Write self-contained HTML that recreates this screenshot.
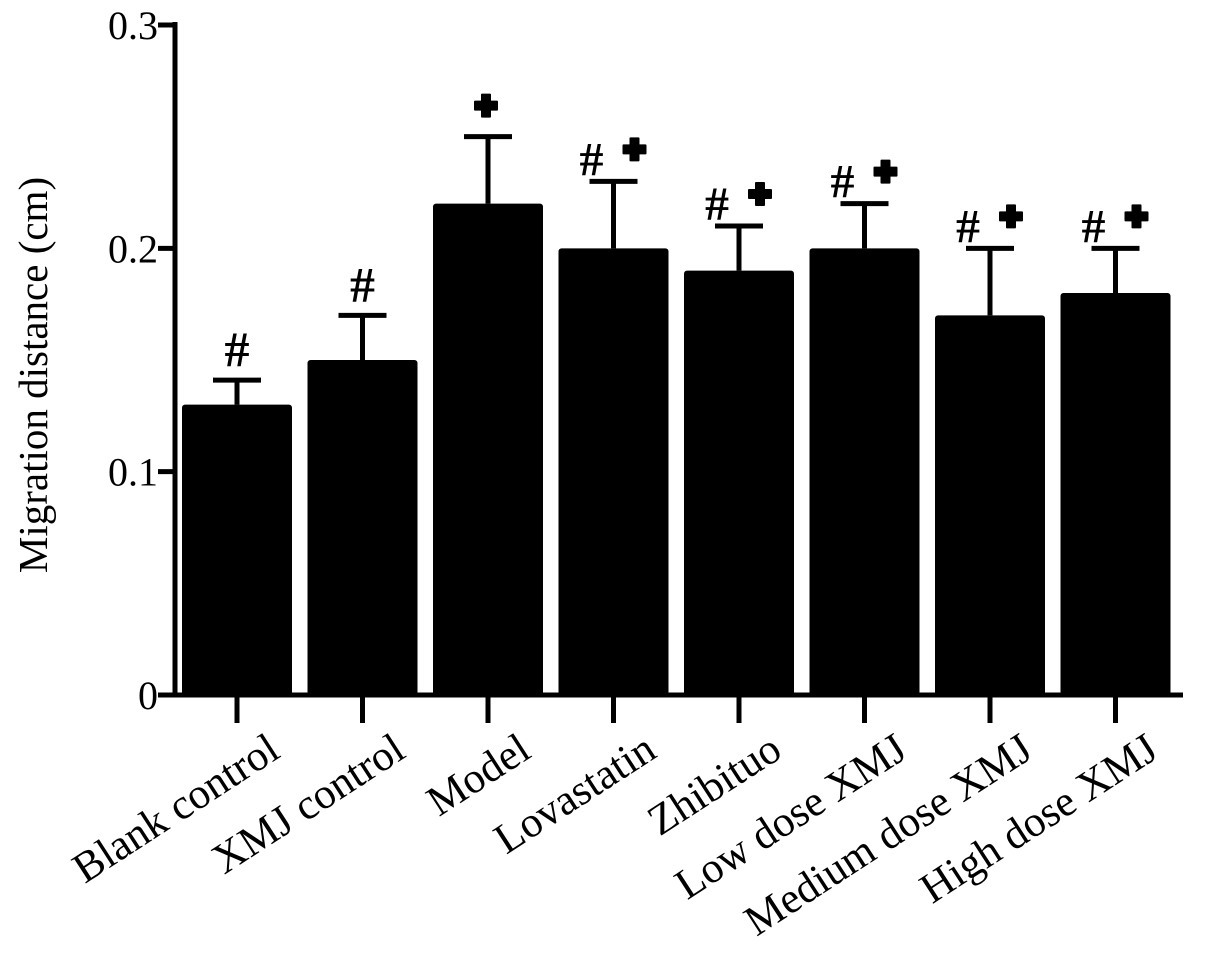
<!DOCTYPE html>
<html><head><meta charset="utf-8"><style>
body{margin:0;background:#fff}
svg text{font-family:"Liberation Serif",serif;fill:#000}
</style></head><body>
<svg width="1205" height="954">
<g id="g"></g>
</svg>
<script>
const categories=["Blank control","XMJ control","Model","Lovastatin","Zhibituo","Low dose XMJ","Medium dose XMJ","High dose XMJ"];
const values=[0.13,0.15,0.22,0.20,0.19,0.20,0.17,0.18];
const errors=[0.011,0.02,0.03,0.03,0.02,0.02,0.03,0.02];
const marks=["#","#","+","#+","#+","#+","#+","#+"];
const yTicks=[0,0.1,0.2,0.3];
const yTickLabels=["0","0.1","0.2","0.3"];
const NS="http://www.w3.org/2000/svg";
const g=document.getElementById('g');
const y=v=>695-v/0.3*670;
const x=i=>237+i*125.5;
function el(t,a,txt){const e=document.createElementNS(NS,t);for(const k in a)e.setAttribute(k,a[k]);if(txt!=null)e.textContent=txt;g.appendChild(e);return e;}
function plus(cx,cy){
  const p=el('path',{d:`M${cx-4},${cy-11}h8v7h7v8h-7v7h-8v-7h-7v-8h7z`,fill:'#000','stroke':'#000','stroke-width':2,'stroke-linejoin':'round'});
  return p;
}
let e;
e=el('line',{x1:175,y1:22,x2:175,y2:697,stroke:'#000','stroke-width':5});


e=el('line',{x1:158,y1:695,x2:1183,y2:695,stroke:'#000','stroke-width':5});


yTicks.forEach((t,i)=>{
  e=el('line',{x1:158,y1:y(t),x2:175,y2:y(t),stroke:'#000','stroke-width':5});
  
  
  e=el('text',{x:158,y:y(t)+14,'text-anchor':'end','font-size':40},yTickLabels[i]);
  
  
});
e=el('text',{x:0,y:0,'text-anchor':'middle','font-size':41,transform:'translate(47,375) rotate(-90)'},'Migration distance (cm)');


categories.forEach((c,i)=>{
  const cx=x(i);
  e=el('rect',{x:cx-55,y:y(values[i]),width:110,height:695-y(values[i]),fill:'#000',rx:3});
  
  
  const top=y(values[i]+errors[i]);
  e=el('line',{x1:cx,y1:y(values[i]),x2:cx,y2:top,stroke:'#000','stroke-width':5});
  
  
  e=el('line',{x1:cx-24,y1:top,x2:cx+24,y2:top,stroke:'#000','stroke-width':5});
  
  
  e=el('line',{x1:cx,y1:695,x2:cx,y2:723,stroke:'#000','stroke-width':5});
  
  
  e=el('text',{x:0,y:0,'text-anchor':'end','font-size':43,transform:`translate(${cx+45},${756}) rotate(-33)`},c);
  
  
  const m=marks[i];
  if(m==="#"){
    e=el('text',{x:cx,y:top-14,'text-anchor':'middle','font-size':50,'font-weight':'bold','font-family':'Liberation Sans'},'#');
    
    
  }else if(m==="+"){
    e=plus(cx-2,top-31);
    
    
  }else{
    e=el('text',{x:cx-22,y:top-6,'text-anchor':'middle','font-size':48,'font-weight':'bold','font-family':'Liberation Sans'},'#');
    
    
    e=plus(cx+21,top-32);
    
    
  }
});
</script>
</body></html>
